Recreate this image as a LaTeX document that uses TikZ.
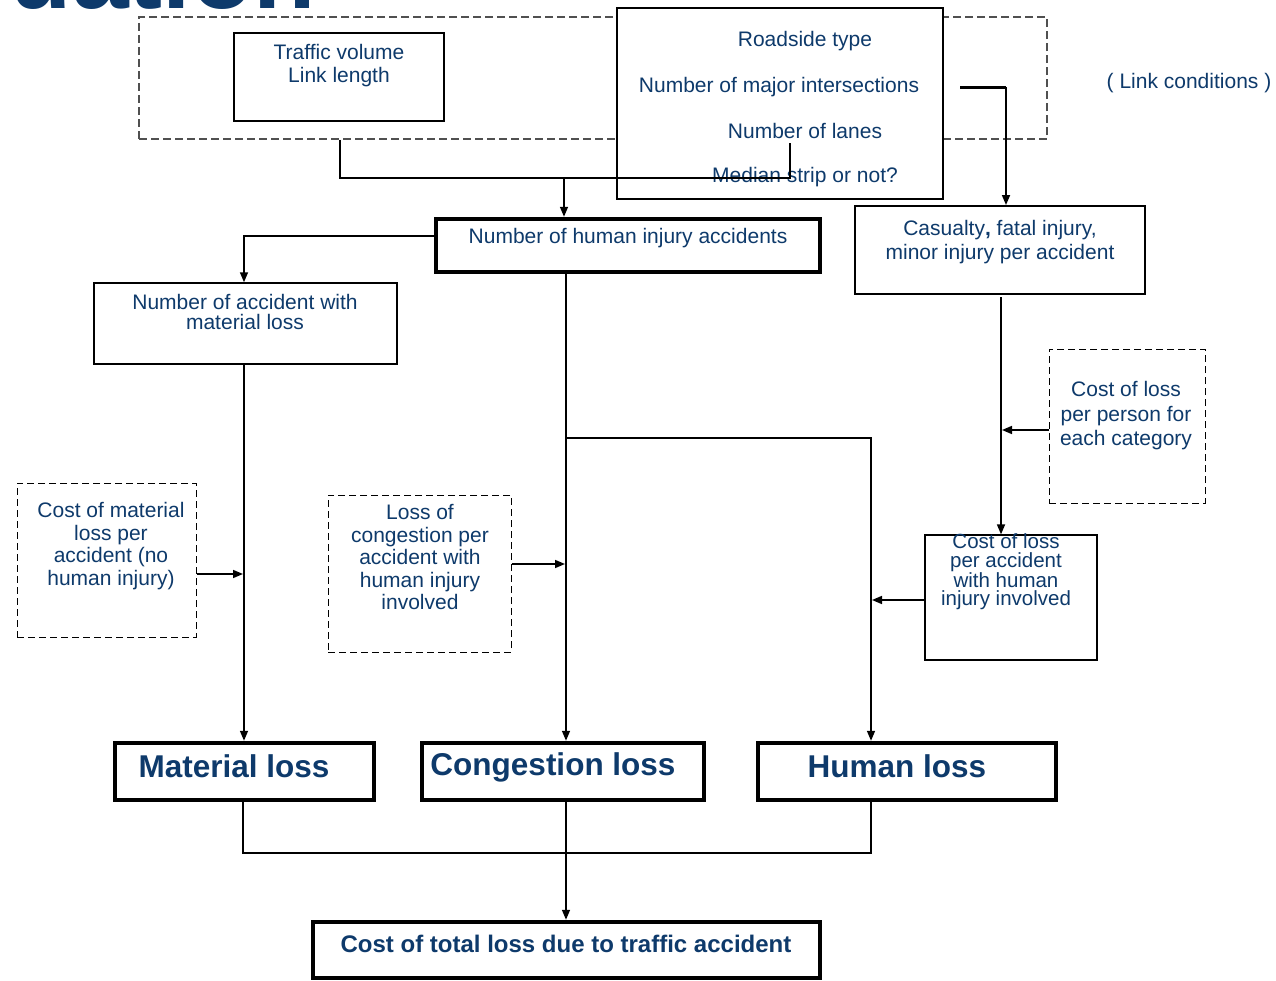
\documentclass[tikz,border=0pt]{standalone}
\usepackage{fontspec}
\setmainfont{Liberation Sans}
\usetikzlibrary{arrows.meta}
\definecolor{tblue}{HTML}{0E3A6B}
\definecolor{dgray}{HTML}{505050}
\begin{document}
\begin{tikzpicture}[x=1pt,y=-1pt,
  txt/.style={text=tblue,font=\fontsize{21}{23}\selectfont,align=center,inner sep=0pt},
  btxt/.style={text=tblue,font=\bfseries\fontsize{31.5}{34}\selectfont,inner sep=0pt},
  box/.style={draw=black,line width=#1,inner sep=0pt,fill=white},
  dbox/.style={draw=black,line width=1pt,dash pattern=on 7pt off 4pt,inner sep=0pt},
  arr/.style={line width=1.6pt,-{Triangle[length=10pt,width=8pt]}},
  ln/.style={line width=1.6pt}]
\useasboundingbox (0,0) rectangle (1276,980);
\clip (0,0) rectangle (1276,980);
\fill[white] (0,0) rectangle (1276,980);
% partial title
\node[text=tblue,font=\bfseries\fontsize{102}{102}\selectfont,anchor=base east,inner sep=0pt] (title) at (316,8) {uation};
% link conditions group
\node[draw=dgray,line width=1.5pt,dash pattern=on 8pt off 4pt,inner sep=0pt,minimum width=908pt,minimum height=122pt] (lc) at (593,78) {};
\node[txt] (lctxt) at (1189,83) {( Link conditions )};
\node[box=2.5pt,minimum width=210pt,minimum height=88pt] (tv) at (339,77) {};
\node[txt] (tvtxt) at (339,66) {Traffic volume\\Link length};
\node[box=2.5pt,minimum width=326pt,minimum height=191pt] (road) at (780,103.5) {};
\node[txt] (rt1) at (805,41) {Roadside type};
\node[txt] (rt2) at (779,87) {Number of major intersections};
\node[txt] (rt3) at (805,131) {Number of lanes};
\node[txt] (rt4) at (805,177) {Median strip or not?};
% middle boxes
\node[box=4.5pt,minimum width=384pt,minimum height=53pt] (hia) at (628,245.5) {};
\node[txt] (hiatxt) at (628,238) {Number of human injury accidents};
\node[box=1.5pt,minimum width=303pt,minimum height=81pt] (mla) at (245.5,323.5) {};
\node[txt,font=\fontsize{21}{20}\selectfont] (mlatxt) at (245,312) {Number of accident with\\material loss};
\node[box=2pt,minimum width=290pt,minimum height=88pt] (cas) at (1000,250) {};
\node[txt,font=\fontsize{21}{24}\selectfont] (castxt) at (1000,242) {Casualty\textbf{,} fatal injury,\\minor injury per accident};
\node[dbox,minimum width=156pt,minimum height=154pt] (cpp) at (1127,426) {};
\node[txt,font=\fontsize{21}{24.5}\selectfont] (cpptxt) at (1126,416) {Cost of loss\\per person for\\each category};
\node[box=1.3pt,minimum width=172pt,minimum height=125pt] (cpa) at (1011,597.5) {};
\node[txt,font=\fontsize{20.5}{18.6}\selectfont] (cpatxt) at (1006,572) {Cost of loss\\per accident\\with human\\injury involved};
\node[dbox,minimum width=179pt,minimum height=154pt] (cml) at (106.5,560) {};
\node[txt,font=\fontsize{21}{22.7}\selectfont] (cmltxt) at (111,546) {Cost of material\\loss per\\accident (no\\human injury)};
\node[dbox,minimum width=183pt,minimum height=157pt] (lcg) at (419.5,573.5) {};
\node[txt,font=\fontsize{21}{22.5}\selectfont] (lcgtxt) at (420,557) {Loss of\\congestion per\\accident with\\human injury\\involved};
% bottom boxes
\node[box=4.5pt,minimum width=259pt,minimum height=57pt] (ml) at (244.5,771.5) {};
\node[btxt] (mltxt) at (234,766) {Material loss};
\node[box=4.5pt,minimum width=282pt,minimum height=57pt] (cl) at (563,771.5) {};
\node[btxt] (cltxt) at (553,767) {Congestion loss};
\node[box=4.5pt,minimum width=298pt,minimum height=57pt] (hl) at (907,771.5) {};
\node[btxt] (hltxt) at (897,766) {Human loss};
\node[box=4.5pt,minimum width=507pt,minimum height=56pt] (tot) at (566.5,950) {};
\node[btxt,font=\bfseries\fontsize{24}{26}\selectfont] (tottxt) at (566,944) {Cost of total loss due to traffic accident};
% connectors
\coordinate (j1) at (340,178);
\coordinate (j2) at (790,178);
\coordinate (jt) at (564,178);
\draw[ln] (lc.south -| j1) -- (j1) -- (j2) -- ++(0,-35);
\draw[arr] (jt) -- (jt |- hia.north);
\coordinate (rj) at (960,87);
\coordinate (rk) at (1006,87);
\draw[line width=3pt] (rj) -- (rk);
\draw[arr] (rk) -- (rk |- cas.north);
\draw[arr] (hia.west |- 0,236) -| (mla.north -| 244,0);
\draw[arr] (mla.south -| 244,0) -- (244,0 |- ml.north);
\coordinate (b1) at (566,438);
\draw[arr] (566,0 |- hia.south) -- (566,0 |- cl.north);
\draw[arr] (b1) -- (871,438) -- (871,0 |- hl.north);
\draw[arr] (1001,297) -- (1001,0 |- cpa.north);
\draw[arr] (cpp.west |- 0,430) -- (1002,430);
\draw[arr] (cpa.west |- 0,600) -- (872,600);
\draw[arr] (cml.east |- 0,574) -- (243,574);
\draw[arr] (lcg.east |- 0,564) -- (565,564);
\draw[line width=2pt] (243,0 |- ml.south) -- (243,853) -- (871,853) -- (871,0 |- hl.south);
\draw[arr] (566,0 |- cl.south) -- (566,0 |- tot.north);
\end{tikzpicture}
\end{document}
